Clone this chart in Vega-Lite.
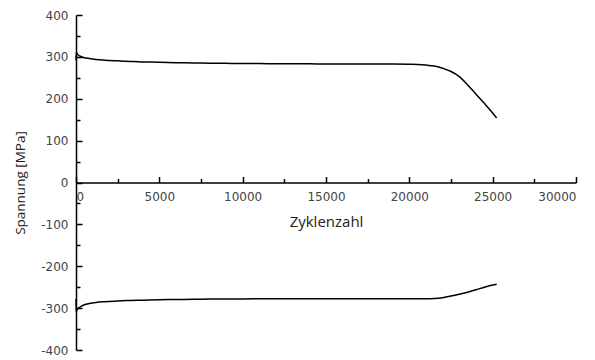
{
  "$schema": "https://vega.github.io/schema/vega-lite/v6.json",
  "width": 500,
  "height": 335,
  "autosize": "none",
  "padding": {"left": 76, "top": 15, "right": 19, "bottom": 10},
  "background": "white",
  "config": {
    "view": {"stroke": null},
    "axis": {
      "grid": false,
      "domainColor": "#000",
      "domainWidth": 1.5,
      "tickColor": "#000",
      "tickWidth": 1.5,
      "labelFont": "DejaVu Sans",
      "labelFontSize": 12,
      "labelColor": "#444",
      "titleFont": "Open Sans",
      "titleFontWeight": "normal",
      "titleColor": "#222"
    }
  },
  "datasets": {
    "oberspannung": [
      {"n": 0, "s": 292}, {"n": 20, "s": 311}, {"n": 60, "s": 308}, {"n": 150, "s": 304},
      {"n": 300, "s": 301}, {"n": 500, "s": 298}, {"n": 800, "s": 296}, {"n": 1200, "s": 294},
      {"n": 1600, "s": 292.5}, {"n": 2000, "s": 291.5}, {"n": 2500, "s": 290.5}, {"n": 3000, "s": 289.5},
      {"n": 3500, "s": 289}, {"n": 4000, "s": 288}, {"n": 4500, "s": 287.5}, {"n": 5000, "s": 287},
      {"n": 6000, "s": 286}, {"n": 7000, "s": 285.5}, {"n": 8000, "s": 285}, {"n": 9000, "s": 284.5},
      {"n": 10000, "s": 284}, {"n": 11000, "s": 284}, {"n": 12000, "s": 283.5}, {"n": 13000, "s": 283.5},
      {"n": 14000, "s": 283.5}, {"n": 15000, "s": 283}, {"n": 16000, "s": 283}, {"n": 17000, "s": 283},
      {"n": 18000, "s": 283}, {"n": 19000, "s": 283}, {"n": 20000, "s": 282.5}, {"n": 20500, "s": 282},
      {"n": 21000, "s": 280.5}, {"n": 21500, "s": 278}, {"n": 22000, "s": 273}, {"n": 22500, "s": 265},
      {"n": 23000, "s": 253}, {"n": 23500, "s": 233}, {"n": 24000, "s": 211}, {"n": 24500, "s": 189},
      {"n": 25000, "s": 166}, {"n": 25240, "s": 154}
    ],
    "unterspannung": [
      {"n": 0, "s": -278}, {"n": 10, "s": -310}, {"n": 50, "s": -305}, {"n": 150, "s": -300},
      {"n": 300, "s": -296}, {"n": 500, "s": -292}, {"n": 800, "s": -289}, {"n": 1200, "s": -286.5},
      {"n": 1600, "s": -285}, {"n": 2000, "s": -284}, {"n": 2500, "s": -283}, {"n": 3000, "s": -282},
      {"n": 4000, "s": -281}, {"n": 5000, "s": -280}, {"n": 6000, "s": -279.5}, {"n": 7000, "s": -279},
      {"n": 8000, "s": -278.5}, {"n": 10000, "s": -278}, {"n": 12000, "s": -277.5}, {"n": 15000, "s": -277.5},
      {"n": 18000, "s": -277.5}, {"n": 20000, "s": -277.5}, {"n": 21000, "s": -277.5}, {"n": 21500, "s": -277},
      {"n": 22000, "s": -275}, {"n": 22500, "s": -271}, {"n": 23000, "s": -267}, {"n": 23500, "s": -262},
      {"n": 24000, "s": -256}, {"n": 24500, "s": -250}, {"n": 25000, "s": -245}, {"n": 25240, "s": -243}
    ]
  },
  "layer": [
    {
      "data": {"name": "oberspannung"},
      "mark": {"type": "line", "color": "#000", "strokeWidth": 1.5, "interpolate": "monotone"},
      "encoding": {
        "x": {
          "field": "n", "type": "quantitative",
          "scale": {"domain": [0, 30000], "nice": false},
          "axis": {
            "orient": "bottom", "offset": -167.5,
            "values": [0, 5000, 10000, 15000, 20000, 25000, 30000],
            "labelExpr": "'' + datum.value", "tickSize": -6, "labelPadding": 15,
            "title": "Zyklenzahl", "titleFontSize": 15, "titlePadding": 12
          }
        },
        "y": {
          "field": "s", "type": "quantitative",
          "scale": {"domain": [-400, 400], "nice": false},
          "axis": {
            "values": [-400, -300, -200, -100, 0, 100, 200, 300, 400],
            "labelExpr": "'' + datum.value", "tickSize": -6, "labelPadding": 14,
            "title": "Spannung [MPa]", "titleFontSize": 13.5, "titlePadding": 13
          }
        }
      }
    },
    {
      "data": {"name": "unterspannung"},
      "mark": {"type": "line", "color": "#000", "strokeWidth": 1.5, "interpolate": "monotone"},
      "encoding": {
        "x": {
          "field": "n", "type": "quantitative",
          "axis": {
            "orient": "bottom", "offset": -167.5, "domain": false, "labels": false,
            "values": [2500, 7500, 12500, 17500, 22500, 27500],
            "tickSize": -4, "title": null
          }
        },
        "y": {
          "field": "s", "type": "quantitative",
          "axis": {
            "orient": "left", "domain": false, "labels": false,
            "values": [-350, -250, -150, -50, 50, 150, 250, 350],
            "tickSize": -4, "title": null
          }
        }
      }
    }
  ],
  "resolve": {"axis": {"x": "independent", "y": "independent"}}
}
